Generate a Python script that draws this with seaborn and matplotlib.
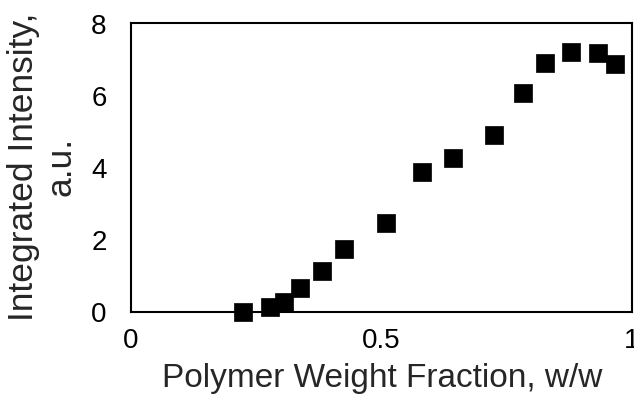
import matplotlib
matplotlib.use("Agg")
import matplotlib.pyplot as plt
import seaborn as sns
import pandas as pd

# Data
polymer_fraction = [0.224, 0.277, 0.305, 0.337, 0.381, 0.426, 0.508, 0.580,
                    0.643, 0.725, 0.782, 0.826, 0.878, 0.933, 0.966]
intensity = [0.00, 0.12, 0.27, 0.66, 1.12, 1.74, 2.45, 3.87,
             4.27, 4.90, 6.07, 6.88, 7.20, 7.18, 6.85]
x_ticks = [0, 0.5, 1]
x_tick_labels = ["0", "0.5", "1"]
y_ticks = [0, 2, 4, 6, 8]

sns.set_style("white")
plt.rcParams["font.family"] = ["Liberation Sans", "DejaVu Sans"]

df = pd.DataFrame({"x": polymer_fraction, "y": intensity})

fig = plt.figure(figsize=(6.34, 4.02), dpi=100)
ax = fig.add_axes([131 / 634, 1 - 312.5 / 402, (632 - 131) / 634, (312.5 - 24) / 402])

sns.scatterplot(data=df, x="x", y="y", marker="s", s=150, color="black",
                edgecolor="black", linewidth=0.5, ax=ax, clip_on=False, zorder=3)

ax.set_xlim(0, 1)
ax.set_ylim(0, 8)
ax.set_xticks(x_ticks)
ax.set_xticklabels(x_tick_labels)
ax.set_yticks(y_ticks)
ax.tick_params(axis="both", direction="inout", length=7, width=1.3,
               labelsize=20, colors="black")
ax.tick_params(axis="x", pad=8)
ax.tick_params(axis="y", pad=14)
for side in ["left", "bottom", "top", "right"]:
    ax.spines[side].set_visible(True)
    ax.spines[side].set_color("black")
    ax.spines[side].set_linewidth(1.5)

ax.set_xlabel("Polymer Weight Fraction, w/w", fontsize=24)
ax.set_ylabel("Integrated Intensity,\na.u.", fontsize=25.5, linespacing=1.15)
ax.xaxis.set_label_coords(0.502, -0.175)
ax.yaxis.set_label_coords(-0.107, 0.505)

fig.savefig("out.png", dpi=100)
